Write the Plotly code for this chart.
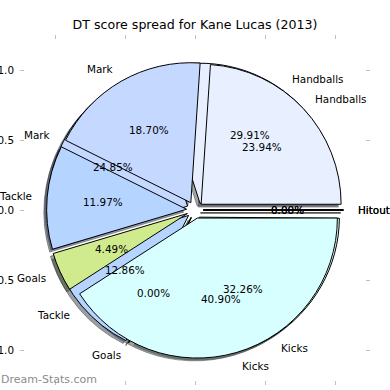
import math
import plotly.graph_objects as go

# ---- data ----
labels = ["Hitout", "Handballs", "Mark", "Tackle", "Goals", "Kicks"]
share_front = [0.0, 23.94, 18.70, 11.97, 4.49, 40.90]   # pie drawn on top (%)
share_back = [0.0, 29.91, 24.85, 12.86, 0.0, 32.26]     # pie drawn underneath (%)
slice_colors = ["#f4f4ff", "#e8f0ff", "#c5d8ff", "#b5d4ff", "#d0eb8e", "#d8ffff"]
tick_vals = [-1.0, -0.5, 0.0, 0.5, 1.0]
title_text = "DT score spread for Kane Lucas (2013)"
watermark = "Dream-Stats.com"

# ---- style ----
EXPLODE = 0.06
SHADOW = 0.02
AX_LIM = 1.25
FONT = "DejaVu Sans"
FS = 10.4

fig = go.Figure()


def pie_domain(dx=0.0, dy=0.0):
    span = 2 * AX_LIM
    half = (1 + EXPLODE) / span
    cx = 0.5 + dx / span
    cy = 0.5 + dy / span
    return dict(x=[cx - half, cx + half], y=[cy - half, cy + half])


def shade(c):
    c = c.lstrip("#")
    r, g, b = (int(c[i:i + 2], 16) for i in (0, 2, 4))
    return "rgba(%d,%d,%d,0.5)" % (0.3 * r, 0.3 * g, 0.3 * b)


def add_pie(shares, shadow=False):
    vals = list(shares)
    cols = list(slice_colors)
    rest = 100.0 - sum(vals)
    if rest > 1e-9:
        vals.append(rest)
        cols.append("rgba(0,0,0,0)")
    pulls = [EXPLODE] * len(vals)
    if shadow:
        mcols = [shade(c) if not c.startswith("rgba") else c for c in cols]
        line = dict(color=[m for m in mcols], width=1)
        dom = pie_domain(-SHADOW, -SHADOW)
    else:
        mcols = cols
        line = dict(color=["#000000"] * len(shares) + ["rgba(0,0,0,0)"] * (len(vals) - len(shares)), width=1)
        dom = pie_domain()
    fig.add_trace(go.Pie(
        values=vals, labels=[str(i) for i in range(len(vals))], sort=False,
        direction="counterclockwise", rotation=90, pull=pulls,
        marker=dict(colors=mcols, line=line), textinfo="none",
        hoverinfo="skip", showlegend=False, domain=dom))


# zero-value wedges become lines (and their shadows), computed from the data
for shares in (share_back, share_front):
    cum = 0.0
    for v in shares:
        if v == 0:
            th = 2 * math.pi * cum / 100.0
            for off, col in ((SHADOW, "rgba(77,77,77,0.5)"), (0.0, "#000000")):
                fig.add_trace(go.Scatter(
                    x=[EXPLODE * math.cos(th) - off, (1 + EXPLODE) * math.cos(th) - off],
                    y=[EXPLODE * math.sin(th) - off, (1 + EXPLODE) * math.sin(th) - off],
                    mode="lines", line=dict(color=col, width=1.2),
                    hoverinfo="skip", showlegend=False))
        cum += v

add_pie(share_back, shadow=True)
add_pie(share_front, shadow=True)
add_pie(share_back)
add_pie(share_front)

annotations = []
for shares in (share_back, share_front):
    cum = 0.0
    for lab, v in zip(labels, shares):
        th = 2 * math.pi * (cum + v / 2) / 100.0
        c, s = math.cos(th), math.sin(th)
        xl = (EXPLODE + 1.1) * c
        annotations.append(dict(
            x=xl, y=(EXPLODE + 1.1) * s, xref="x", yref="y", text=lab,
            xanchor="left" if xl > 0 else "right", yanchor="middle",
            showarrow=False, borderpad=0, font=dict(family=FONT, size=FS, color="#000")))
        annotations.append(dict(
            x=(EXPLODE + 0.6) * c, y=(EXPLODE + 0.6) * s, xref="x", yref="y",
            text="%.2f%%" % v, xanchor="center", yanchor="middle",
            showarrow=False, borderpad=0, font=dict(family=FONT, size=FS, color="#000")))
        cum += v

annotations.append(dict(
    x=-20 / 350, y=6 / 350, xref="paper", yref="paper", text=watermark,
    xanchor="left", yanchor="middle", showarrow=False, borderpad=0,
    font=dict(family=FONT, size=11, color="#8c8c8c")))

axis = dict(range=[-AX_LIM, AX_LIM], tickvals=tick_vals, tickformat=".1f",
            ticks="inside", ticklen=4, tickwidth=1, tickcolor="#c0c0c0",
            mirror="ticks", showline=False, showgrid=False, zeroline=False,
            automargin=False, ticklabelstandoff=5,
            tickfont=dict(family=FONT, size=FS, color="#000"), fixedrange=True)

fig.update_layout(
    width=390, height=390,
    margin=dict(l=20, r=20, t=35, b=5, autoexpand=False),
    paper_bgcolor="white", plot_bgcolor="white",
    xaxis=dict(axis, side="bottom"),
    yaxis=dict(axis),
    annotations=annotations,
    title=dict(text=title_text, x=0.5, xanchor="center", xref="paper",
               y=1 - 25 / 390, yanchor="middle", yref="container",
               font=dict(family=FONT, size=12.6, color="#000")),
)

fig.write_html("out.html", config={"displayModeBar": False},
               post_script="document.body.style.margin='0';document.body.style.overflow='hidden';")
